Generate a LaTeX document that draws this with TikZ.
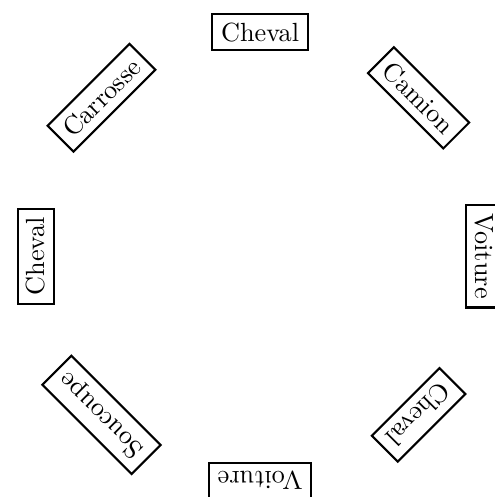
\documentclass[tikz,border=0pt]{standalone}
\begin{document}
\begin{tikzpicture}[
  mot/.style={draw, thick, inner sep=3.33pt}
]
\useasboundingbox (-3.48,-3.22) rectangle (3.13,3.43);
%% mots autour du cercle
\foreach \ang/\mot [count=\i] in {0/Voiture, 45/Camion, 90/Cheval, 135/Carrosse,
                                  180/Cheval, 225/Soucoupe, 270/Voiture, 315/Cheval}
  \node[mot, rotate=\ang-90] (m\i) at (\ang:3) {\mot};
\end{tikzpicture}
\end{document}
